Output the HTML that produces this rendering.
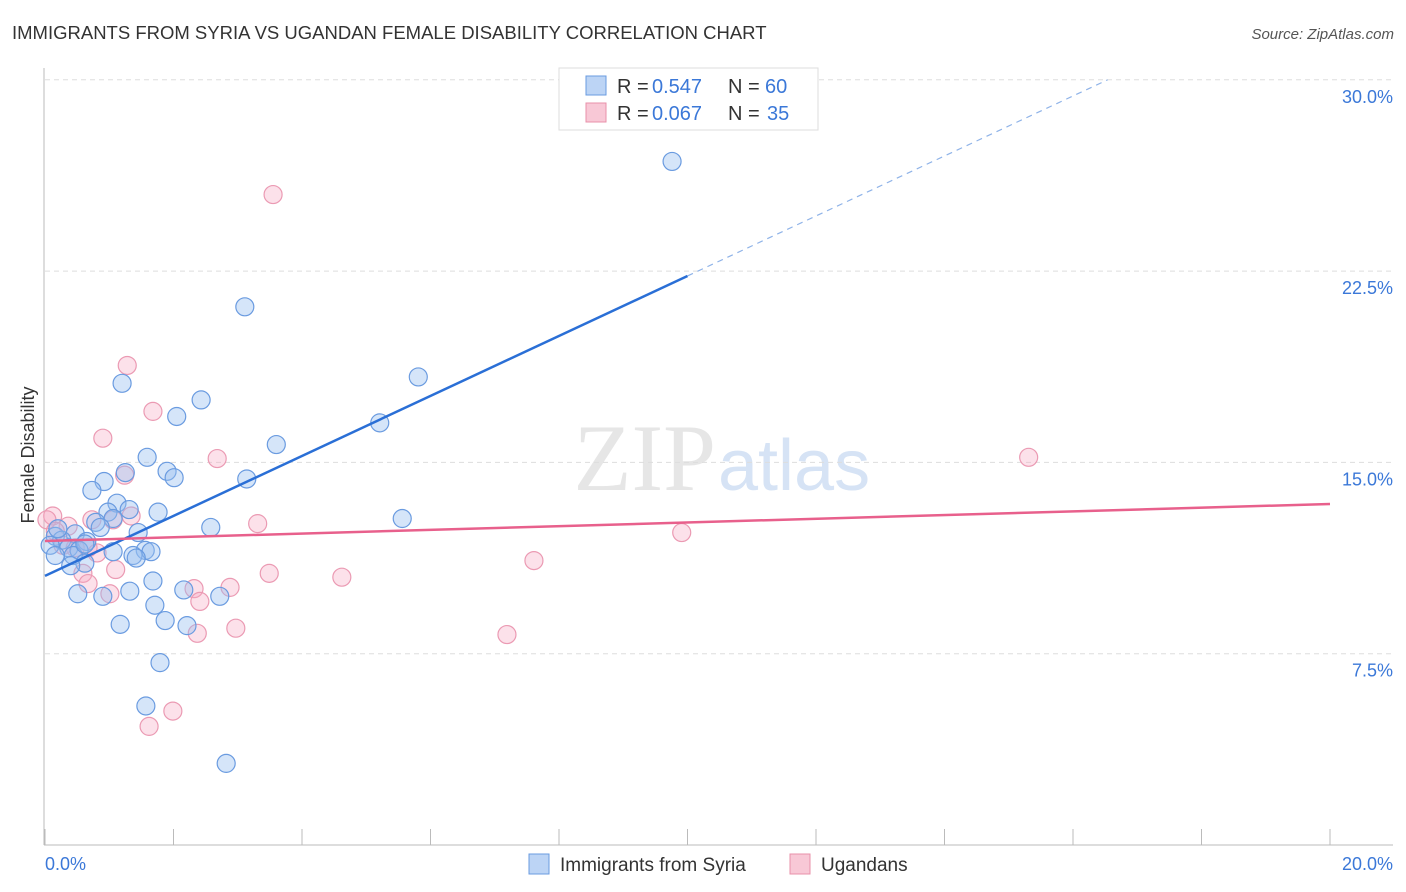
<!DOCTYPE html>
<html><head><meta charset="utf-8"><style>
body{margin:0;background:#fff;font-family:"Liberation Sans",sans-serif;}
svg{display:block}
</style></head><body>
<svg width="1406" height="892" xmlns="http://www.w3.org/2000/svg">
<text x="12" y="39" font-size="18.5" fill="#333">IMMIGRANTS FROM SYRIA VS UGANDAN FEMALE DISABILITY CORRELATION CHART</text>
<text x="1394" y="39" font-size="15" fill="#555" font-style="italic" text-anchor="end">Source: ZipAtlas.com</text>
<text x="716" y="490" font-size="95" fill="#e6e6e6" font-family="Liberation Serif,serif" text-anchor="end">ZIP</text>
<text x="718" y="490" font-size="72" fill="#d6e3f5">atlas</text>
<g id="grid"></g>
<g id="axes"></g>
<g id="pts"></g>
<g id="lines"></g>
<text transform="translate(34,455) rotate(-90)" font-size="18" fill="#333" text-anchor="middle">Female Disability</text>
<g>
<rect x="559" y="68" width="259" height="62" fill="#fff" stroke="#ddd"/>
<rect x="586" y="76" width="20" height="19" fill="#bcd4f5" stroke="#6a9be0"/>
<rect x="586" y="103" width="20" height="19" fill="#f8c8d6" stroke="#e890aa"/>
<g font-size="20" fill="#333">
<text x="617" y="93">R =</text><text x="652" y="93" fill="#3b78d8">0.547</text><text x="728" y="93">N =</text><text x="765" y="93" fill="#3b78d8">60</text></g>
<g font-size="20" fill="#333">
<text x="617" y="120">R =</text><text x="652" y="120" fill="#3b78d8">0.067</text><text x="728" y="120">N =</text><text x="767" y="120" fill="#3b78d8">35</text></g>
</g>
<g>
<rect x="529" y="854" width="20" height="20" fill="#bcd4f5" stroke="#6a9be0"/>
<text x="560" y="871" font-size="19" fill="#333">Immigrants from Syria</text>
<rect x="790" y="854" width="20" height="20" fill="#f8c8d6" stroke="#e890aa"/>
<text x="821" y="871" font-size="19" fill="#333">Ugandans</text>
</g>
</svg>
<script>
const yTicks=[7.5,15,22.5,30];
const yTickLabels=["7.5%","15.0%","22.5%","30.0%"];
const xTickLabels=["0.0%","20.0%"];
const syriaX=[9.76,3.11,5.81,1.20,2.43,2.05,5.21,3.60,1.59,1.25,1.90,2.01,3.14,0.92,0.73,1.12,1.31,0.98,1.76,1.06,0.79,0.86,2.58,5.56,1.45,0.47,0.16,0.26,0.65,0.08,0.37,0.53,1.06,1.56,1.65,0.44,0.16,1.37,1.42,0.62,0.40,1.68,2.16,1.32,0.51,0.90,2.72,1.71,1.87,1.17,2.21,1.79,1.57,2.82,0.20,0.62];
const syriaY=[26.8,21.1,18.35,18.1,17.45,16.8,16.55,15.7,15.2,14.6,14.65,14.4,14.35,14.25,13.9,13.4,13.15,13.05,13.05,12.8,12.65,12.45,12.45,12.8,12.25,12.2,12.1,11.95,11.9,11.75,11.65,11.55,11.5,11.55,11.5,11.35,11.35,11.35,11.25,11.05,10.95,10.35,10.0,9.95,9.85,9.75,9.75,9.4,8.8,8.65,8.6,7.15,5.45,3.2,12.4,11.8];
const ugX=[3.55,1.28,1.68,0.90,2.68,15.31,1.24,0.12,0.03,0.73,1.06,1.34,3.31,0.36,0.16,9.91,0.28,0.67,0.81,7.61,1.10,3.49,0.59,4.62,0.67,2.32,2.88,1.01,2.41,2.97,2.37,7.19,1.99,1.62,0.47];
const ugY=[25.5,18.8,17.0,15.95,15.15,15.2,14.5,12.9,12.75,12.75,12.75,12.9,12.6,12.5,12.3,12.25,11.75,11.65,11.45,11.15,10.8,10.65,10.65,10.5,10.25,10.05,10.1,9.85,9.55,8.5,8.3,8.25,5.25,4.65,11.65];
const syriaFit=[10.55,1.176];
const ugFit=[11.92,0.0725];
const X=v=>45+v/20*1285, Y=v=>845-v/7.5*191.3;
const NS="http://www.w3.org/2000/svg";
function mk(tag,attrs,parent){const e=document.createElementNS(NS,tag);for(const k in attrs)e.setAttribute(k,attrs[k]);document.getElementById(parent).appendChild(e);return e;}
yTicks.forEach((t,i)=>{
 const l=mk('line',{x1:45,x2:1393,y1:Y(t),y2:Y(t),stroke:'#ddd','stroke-dasharray':'5,4'},'grid');
 
 
 const tx=mk('text',{x:1393,y:Y(t)+23,'font-size':18,fill:'#3b78d8','text-anchor':'end'},'axes');
 tx.textContent=yTickLabels[i];
 
 
});
let a=mk('line',{x1:44,x2:44,y1:68,y2:845,stroke:'#bbb'},'axes');


a=mk('line',{x1:44,x2:1393,y1:845,y2:845,stroke:'#bbb'},'axes');


for(let i=0;i<=10;i++){const t=mk('line',{x1:X(i*2),x2:X(i*2),y1:829,y2:845,stroke:'#bbb'},'axes');
 
 }
[[0,'start',45],[20,'end',1393]].forEach((d,i)=>{const t=mk('text',{x:d[2],y:870,'font-size':18,fill:'#3b78d8','text-anchor':d[1]},'axes');t.textContent=xTickLabels[i];
 
 });
ugX.forEach((v,i)=>{const c=mk('circle',{cx:X(v),cy:Y(ugY[i]),r:9,fill:'rgba(245,170,195,0.35)',stroke:'#eb9ab3','stroke-width':1.2},'pts');
 
 });
syriaX.forEach((v,i)=>{const c=mk('circle',{cx:X(v),cy:Y(syriaY[i]),r:9,fill:'rgba(150,190,240,0.4)',stroke:'#6a9be0','stroke-width':1.2},'pts');
 
 });
const f=(fit,x)=>fit[0]+fit[1]*x;
let l=mk('line',{x1:X(0),y1:Y(f(syriaFit,0)),x2:X(10),y2:Y(f(syriaFit,10)),stroke:'#2a6fd6','stroke-width':2.5},'lines');


const xe=(30-syriaFit[0])/syriaFit[1];
l=mk('line',{x1:X(10),y1:Y(f(syriaFit,10)),x2:X(xe),y2:Y(30),stroke:'#8fb3e8','stroke-width':1.2,'stroke-dasharray':'6,5'},'lines');


l=mk('line',{x1:X(0),y1:Y(f(ugFit,0)),x2:X(20),y2:Y(f(ugFit,20)),stroke:'#e8608c','stroke-width':2.5},'lines');


</script>
</body></html>
